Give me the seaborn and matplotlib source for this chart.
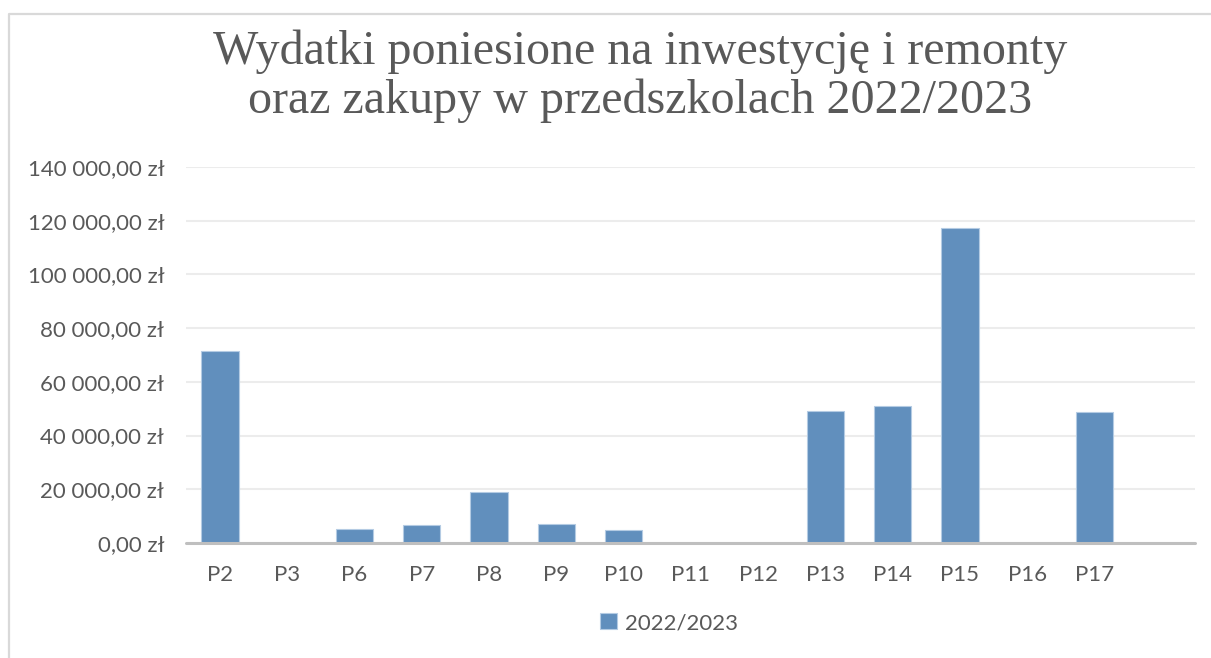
import pandas as pd
import matplotlib
matplotlib.use("Agg")
import matplotlib.pyplot as plt
from matplotlib.lines import Line2D
from matplotlib.ticker import FuncFormatter
import seaborn as sb

# data
przedszkola = ['P2', 'P3', 'P6', 'P7', 'P8', 'P9', 'P10', 'P11', 'P12',
               'P13', 'P14', 'P15', 'P16', 'P17']
wydatki = [71400, 0, 5200, 6700, 19000, 6900, 4700, 0, 0,
           49000, 50900, 117200, 0, 48800]
rok = '2022/2023'

df = pd.DataFrame({'Przedszkole': przedszkola, 'Wydatki': wydatki, 'Rok': rok})

sb.set_style("white")
plt.rcParams['font.family'] = ['Lato', 'DejaVu Sans']

text_col = '#595959'
bar_col = '#618fbd'

fig = plt.figure(figsize=(12.11, 6.58), dpi=100)
ax = fig.add_axes([186.4 / 1211, 115 / 658, (1195.3 - 186.4) / 1211, 376 / 658])

sb.barplot(data=df, x='Przedszkole', y='Wydatki', hue='Rok', order=przedszkola,
           palette={rok: bar_col}, saturation=1, width=0.555, edgecolor='#b4cbe3',
           linewidth=0.8, ax=ax, legend=True, zorder=3)

ax.set_xlim(-0.5, 14.5)
ax.set_ylim(0, 140000)
ax.set_yticks(range(0, 140001, 20000))
ax.yaxis.set_major_formatter(FuncFormatter(
    lambda v, p: f"{int(v):,}".replace(',', ' ') + ",00 zł"))
ax.grid(axis='y', color='#ececec', linewidth=1.5, zorder=0)
ax.set_axisbelow(True)
ax.axhline(0, color='#bfbfbf', linewidth=2.2, zorder=4, clip_on=False)
for s in ax.spines.values():
    s.set_visible(False)
ax.tick_params(axis='both', length=0, labelsize=16, colors=text_col)
ax.tick_params(axis='x', pad=16)
ax.tick_params(axis='y', pad=16)
ax.set_xlabel('')
ax.set_ylabel('')

handles, labels = ax.get_legend_handles_labels()
ax.get_legend().remove()
fig.legend(handles, labels, loc='center', bbox_to_anchor=(669 / 1211, 1 - 623 / 658),
           frameon=False, fontsize=16, labelcolor=text_col, handlelength=0.75,
           handleheight=0.75, handletextpad=0.35)

title_font = ['Liberation Serif', 'DejaVu Serif']
fig.text(640 / 1211, 1 - 52 / 658, 'Wydatki poniesione na inwestycję i remonty',
         ha='center', va='center', fontsize=34.6, color=text_col, family=title_font)
fig.text(640 / 1211, 1 - 101 / 658, 'oraz zakupy w przedszkolach 2022/2023',
         ha='center', va='center', fontsize=34.6, color=text_col, family=title_font)

# chart border
fig.add_artist(Line2D([9 / 1211, 9 / 1211, 1.0], [0.0, 1 - 13.5 / 658, 1 - 13.5 / 658],
                      transform=fig.transFigure, color='#d9d9d9', linewidth=1.6))

fig.savefig('out.png', dpi=100)
